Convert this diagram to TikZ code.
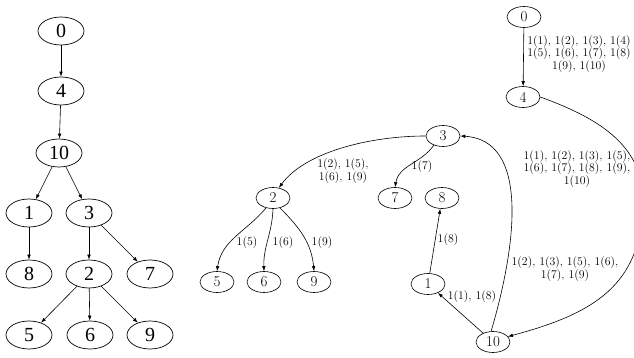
\documentclass[tikz,border=0pt]{standalone}
\usepackage{fontspec}
\newfontfamily\leftfont{Liberation Serif}
\usetikzlibrary{shapes.geometric, arrows.meta}
\begin{document}
\begin{tikzpicture}[x=1pt,y=-1pt,
  big/.style={ellipse, draw, line width=0.7pt, minimum width=46pt, minimum height=28pt, inner sep=0pt, font=\leftfont\fontsize{20}{20}\selectfont},
  small/.style={ellipse, draw, line width=0.6pt, minimum width=34pt, minimum height=21pt, inner sep=0pt, font=\fontsize{15}{15}\selectfont},
  lab/.style={font=\fontsize{11.8}{10.5}\selectfont, align=center, inner sep=0pt},
  edge/.style={draw, line width=0.6pt, -{Latex[length=5pt,width=3.6pt]}}
]
\useasboundingbox (0,0) rectangle (634,358);
% left tree
\node[big] (L0) at (61,31) {0};
\node[big] (L4) at (61,91) {4};
\node[big] (L10) at (59,153) {10};
\node[big] (L1) at (29,213) {1};
\node[big] (L3) at (89,213) {3};
\node[big] (L8) at (29,274) {8};
\node[big] (L2) at (89,274) {2};
\node[big] (L7) at (150,274) {7};
\node[big] (L5) at (29,335) {5};
\node[big] (L6) at (90,335) {6};
\node[big] (L9) at (150,335) {9};
\path[edge] (L0) -- (L4);
\path[edge] (L4) -- (L10);
\path[edge] (L10) -- (L1);
\path[edge] (L10) -- (L3);
\path[edge] (L1) -- (L8);
\path[edge] (L3) -- (L2);
\path[edge] (L3) -- (L7);
\path[edge] (L2) -- (L5);
\path[edge] (L2) -- (L6);
\path[edge] (L2) -- (L9);
% right graph
\node[small] (R0) at (524,17) {0};
\node[small] (R4) at (523,97) {4};
\node[small] (R3) at (443,136) {3};
\node[small] (R2) at (273,198) {2};
\node[small] (R7) at (395,198) {7};
\node[small] (R8) at (442,198) {8};
\node[small] (R1) at (428,284) {1};
\node[small] (R10) at (493,342) {10};
\node[small] (R5) at (217,282) {5};
\node[small] (R6) at (264,282) {6};
\node[small] (R9) at (314,282) {9};
\coordinate (rc) at (643,200);
\path[edge] (R4.east) to[out=-20, in=90] (rc) to[out=-90, in=15, looseness=1.15] (R10.20);
\path[edge] (R0) -- (R4);
\path[edge] (R10.100) .. controls (518,240) and (528,140) .. (R3.east);
\path[edge] (R10) -- (R1);
\path[edge] (R1) -- (R8);
\path[edge] (R3.west) .. controls (370,136) and (305,152) .. (R2.60);
\path[edge] (R3.225) to[out=235, in=80] (R7.north);
\path[edge] (R2.235) to[out=230, in=82] (R5.north);
\path[edge] (R2.south) to[out=268, in=92] (R6.north);
\path[edge] (R2.305) to[out=-45, in=95] (R9.north);
\node[lab] (l04) at (579,54) {1(1), 1(2), 1(3), 1(4)\\1(5), 1(6), 1(7), 1(8)\\1(9), 1(10)};
\node[lab] (l410) at (577,169) {1(1), 1(2), 1(3), 1(5),\\1(6), 1(7), 1(8), 1(9),\\1(10)};
\node[lab] (l103) at (565,269) {1(2), 1(3), 1(5), 1(6),\\1(7), 1(9)};
\node[lab] (l101) at (472,297) {1(1), 1(8)};
\node[lab] (l18) at (448,240) {1(8)};
\node[lab] (l37) at (422,167) {1(7)};
\node[lab] (l32) at (343,171) {1(2), 1(5),\\1(6), 1(9)};
\node[lab] (l25) at (247,243) {1(5)};
\node[lab] (l26) at (283,243) {1(6)};
\node[lab] (l29) at (322,243) {1(9)};
\end{tikzpicture}
\end{document}
